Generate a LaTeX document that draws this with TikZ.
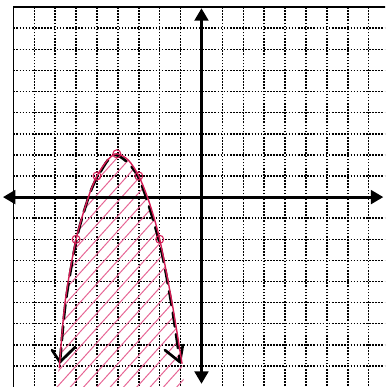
\documentclass[tikz,border=0pt]{standalone}
\usetikzlibrary{arrows.meta}
\definecolor{ink}{RGB}{212,28,84}
\definecolor{hatchink}{RGB}{230,100,148}
\begin{document}
\begin{tikzpicture}[x=1.045cm,y=1.055cm,
  gridline/.style={black, line width=2.2pt, dash pattern=on 2.3pt off 2.1pt},
  frameline/.style={black, line width=2pt},
  axisline/.style={black, line width=4.2pt, {Triangle[length=0.62cm,width=0.68cm]}-{Triangle[length=0.62cm,width=0.68cm]}},
  blackcurve/.style={black, line width=3.8pt, line cap=round, dash pattern=on 20pt off 11pt},
  barb/.style={black, line width=3.8pt, line cap=round, line join=round},
  pinkcurve/.style={ink, line width=2pt},
  hatchline/.style={hatchink, line width=1.4pt},
  dotmark/.style={ink, line width=1.5pt}]
\useasboundingbox (-9.64,-9.0) rectangle (8.78,9.34);
\clip (-9.64,-9.0) rectangle (8.78,9.34);
% grid
\foreach \x in {-8,...,-1,1,2,...,8} \draw[gridline] (\x,-9.1) -- (\x,9);
\foreach \y in {-8,...,-1,1,2,...,8} \draw[gridline] (-9,\y) -- (8.9,\y);
% frame
\draw[frameline] (-9,-9.1) -- (-9,9) -- (8.9,9);
% hatching inside the parabola
\begin{scope}
  \clip plot[smooth] coordinates {(-6.8,-8.1) (-6.53,-5) (-6,-2) (-5.41,0) (-5,1) (-4.5,1.75) (-4.05,2.05) (-3.5,1.75) (-3,1) (-2.5,-0.25) (-2,-2) (-1.41,-5) (-0.93,-7.9)} -- (-0.8,-9.2) -- (-7.2,-9.2) -- cycle;
  \foreach \b in {-8.4,-7.7,...,9.2} \draw[hatchline] (-8,\b-8.8) -- (0,\b);
\end{scope}
% axes
\coordinate (xl) at (-9.5,0);
\coordinate (xr) at (8.7,0);
\coordinate (yb) at (0,-8.85);
\coordinate (yt) at (0,8.95);
\draw[axisline] (xl) -- (xr);
\draw[axisline] (yb) -- (yt);
% black hand-drawn curve
\coordinate (lt) at (-6.77,-7.82);
\coordinate (rt) at (-1.03,-7.82);
\draw[blackcurve] plot[smooth] coordinates {(-6.77,-7.82) (-6.5,-5) (-5.98,-2) (-5.4,0) (-4.95,1) (-4.15,2.0) (-3.05,1) (-2.05,-2) (-1.45,-5) (-1.03,-7.82)};
\draw[barb] (-7.15,-7.25) -- (lt) -- (-6.05,-7.11);
\draw[barb] (-1.75,-7.25) -- (rt) -- (-0.89,-7.01);
% pink curve
\draw[pinkcurve] plot[smooth] coordinates {(-6.8,-8.1) (-6.53,-5) (-6,-2) (-5.41,0) (-5,1) (-4.5,1.75) (-4.05,2.05) (-3.5,1.75) (-3,1) (-2.5,-0.25) (-2,-2) (-1.41,-5) (-0.93,-7.9)};
% plotted points
\foreach \p in {(-4.05,2.05),(-5,1),(-3,1),(-6,-2),(-2,-2)} \draw[dotmark] \p circle (0.19);
\end{tikzpicture}
\end{document}
